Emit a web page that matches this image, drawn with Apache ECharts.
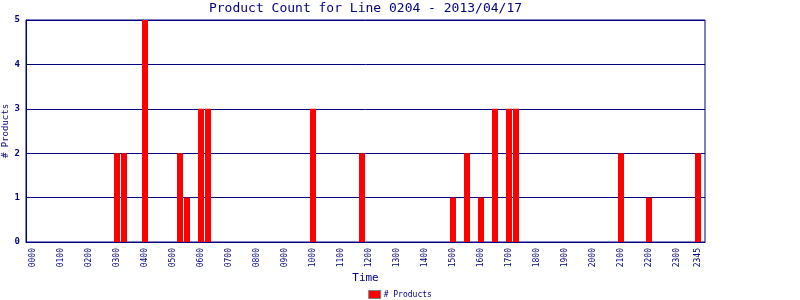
<!DOCTYPE html>
<html>
<head>
<meta charset="utf-8">
<title>Product Count for Line 0204</title>
<script src="https://cdn.jsdelivr.net/npm/echarts@6/dist/echarts.min.js"></script>
<style>
  html, body { margin: 0; padding: 0; background: #fff; }
  #chart { width: 800px; height: 300px; }
</style>
</head>
<body>
<div id="chart"></div>
<script>
// 15 minute slots, 0000 .. 2345
var times = []
for (var h = 0; h < 24; h++) {
  for (var m = 0; m < 60; m += 15) {
    times.push((h < 10 ? '0' : '') + h + (m < 10 ? '0' : '') + m)
  }
}
// product counts, keyed by slot
var slots = ['0300', '0315', '0400', '0515', '0530', '0600', '0615', '1000', '1145',
  '1500', '1530', '1600', '1630', '1700', '1715', '2100', '2200', '2345']
var counts = [2, 2, 5, 2, 1, 3, 3, 3, 2,
  1, 2, 1, 3, 3, 3, 2, 1, 2]
var yTicks = [0, 1, 2, 3, 4, 5]

var navy = '#000080'
var mono = 'DejaVu Sans Mono'

// one empty slot either side so the frame sits a slot away from the bars
var axisData = [''].concat(times).concat([''])
var barData = axisData.map(function(t) {
  var k = slots.indexOf(t)
  return k >= 0 ? counts[k] : null
})

var chart = echarts.init(document.getElementById('chart'))
var option = {
  animation: false,
  title: {
    text: 'Product Count for Line 0204 - 2013/04/17',
    left: 365.5,
    textAlign: 'center',
    top: 0,
    padding: [2, 0, 0, 0],
    textStyle: { color: navy, fontFamily: mono, fontSize: 13, fontWeight: 'normal' }
  },
  legend: {
    left: 'center',
    top: 290,
    icon: 'rect',
    itemWidth: 12,
    itemHeight: 8,
    itemGap: 4,
    padding: 0,
    itemStyle: { borderColor: '#808080', borderWidth: 1 },
    textStyle: { color: navy, fontFamily: mono, fontSize: 8, padding: [0, 0, 0, -2] },
    data: ['# Products']
  },
  grid: {
    left: 26,
    right: 95,
    top: 20,
    bottom: 58,
    show: true,
    borderColor: navy,
    borderWidth: 1,
    containLabel: false,
    outerBoundsMode: 'none'
  },
  xAxis: {
    type: 'category',
    data: axisData,
    boundaryGap: false,
    name: 'Time',
    nameLocation: 'middle',
    nameGap: 31,
    nameMoveOverlap: false,
    nameTextStyle: { color: navy, fontFamily: mono, fontSize: 11 },
    axisLine: { lineStyle: { color: navy, width: 1 } },
    axisTick: { show: false },
    splitLine: { show: false },
    axisLabel: {
      color: navy,
      fontFamily: mono,
      fontSize: 8,
      rotate: 90,
      margin: 6,
      interval: function(idx, val) {
        var i = idx - 1
        return val !== '' && (i % 4 === 0 || i === times.length - 1)
      }
    }
  },
  yAxis: {
    type: 'value',
    min: yTicks[0],
    max: yTicks[yTicks.length - 1],
    interval: 1,
    name: '# Products',
    nameLocation: 'middle',
    nameGap: 16,
    nameMoveOverlap: false,
    nameTextStyle: { color: navy, fontFamily: mono, fontSize: 9 },
    axisLine: { show: true, lineStyle: { color: navy, width: 1 } },
    axisTick: { show: false },
    splitLine: { lineStyle: { color: navy, width: 1 } },
    axisLabel: { color: navy, fontFamily: mono, fontSize: 9, fontWeight: 'bold', margin: 6 }
  },
  series: [{
    name: '# Products',
    type: 'bar',
    barWidth: 6,
    itemStyle: { color: '#ff0000' },
    data: barData
  }]
}
chart.setOption(option, true)
</script>
</body>
</html>
